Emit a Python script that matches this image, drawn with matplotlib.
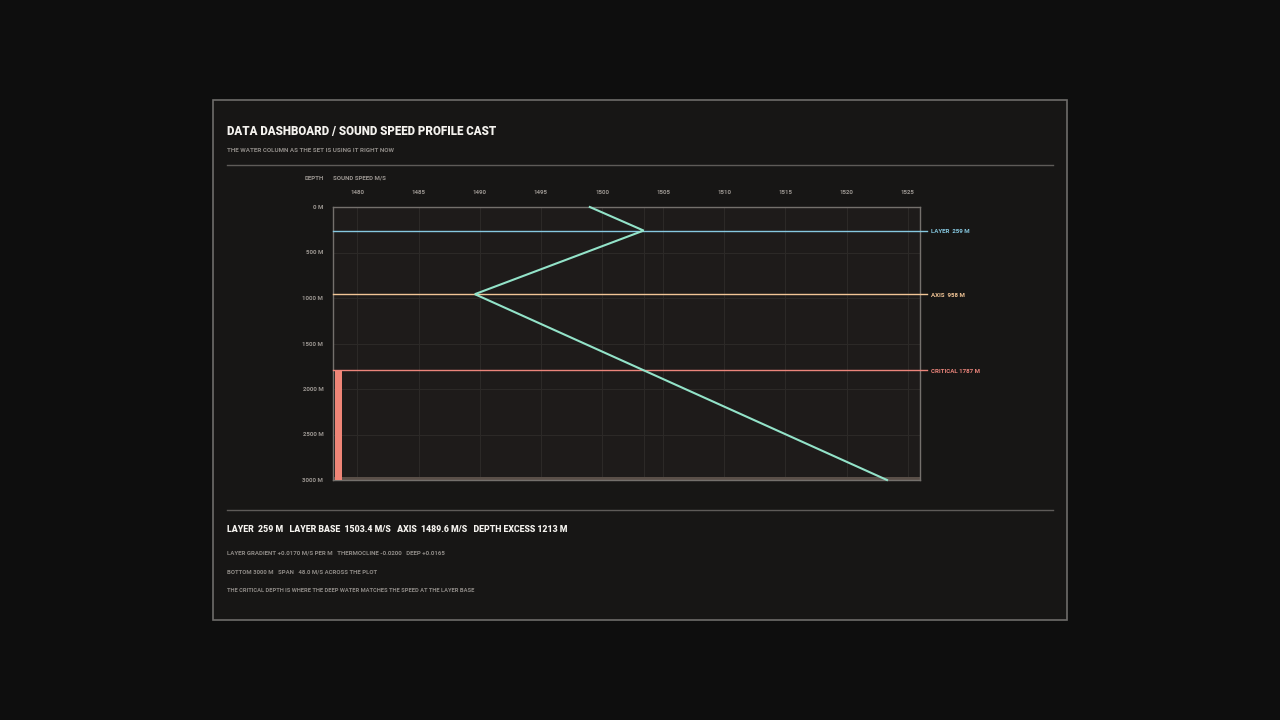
import matplotlib
matplotlib.use("Agg")
import matplotlib.pyplot as plt
from matplotlib.patches import Rectangle
from matplotlib.lines import Line2D

# ---- data ----
depths = [0, 259, 958, 3000]
speeds = [1499.0, 1503.4, 1489.6, 1523.3]
layer_depth = 259
axis_depth = 958
critical_depth = 1787
bottom_depth = 3000
speed_min, speed_max = 1478.0, 1526.0
x_ticks = [1480, 1485, 1490, 1495, 1500, 1505, 1510, 1515, 1520, 1525]
y_ticks = [0, 500, 1000, 1500, 2000, 2500, 3000]
marker_labels = ["LAYER  259 M", "AXIS  958 M", "CRITICAL 1787 M"]
marker_depths = [layer_depth, axis_depth, critical_depth]
marker_colors = ["#86c8e0", "#f2c596", "#ec857b"]

title = "DATA DASHBOARD / SOUND SPEED PROFILE CAST"
subtitle = "THE WATER COLUMN AS THE SET IS USING IT RIGHT NOW"
stats = "LAYER  259 M   LAYER BASE  1503.4 M/S   AXIS  1489.6 M/S   DEPTH EXCESS 1213 M"
notes = ["LAYER GRADIENT +0.0170 M/S PER M   THERMOCLINE -0.0200   DEEP +0.0165",
         "BOTTOM 3000 M   SPAN   48.0 M/S ACROSS THE PLOT",
         "THE CRITICAL DEPTH IS WHERE THE DEEP WATER MATCHES THE SPEED AT THE LAYER BASE"]

FONT = ["Roboto", "DejaVu Sans"]
plt.rcParams['font.family'] = FONT

W, H = 1280, 720
fig = plt.figure(figsize=(12.8, 7.2), dpi=100, facecolor="#0e0e0e")
renderer = fig.canvas.get_renderer()

def fx(px):
    return px / W

def fy(py):
    return 1 - py / H

def fit_text(s, x0, yc, width_px, size, **kw):
    t = fig.text(fx(x0), fy(yc), s, fontsize=size, va="center", ha="left", **kw)
    w = t.get_window_extent(renderer).width
    if w > 0:
        t.set_fontsize(size * width_px / w)
    return t

# panel
fig.patches.append(Rectangle((fx(213), fy(620)), fx(1067) - fx(213), fy(100) - fy(620),
                             transform=fig.transFigure, facecolor="#171615",
                             edgecolor="#6e6c6a", linewidth=1.2, zorder=-5))
# separators
fig.lines.append(Line2D([fx(227), fx(1053)], [fy(165), fy(165)], transform=fig.transFigure,
                        color="#5e5b58", linewidth=1.0, zorder=-4))
fig.lines.append(Line2D([fx(227), fx(1053)], [fy(510), fy(510)], transform=fig.transFigure,
                        color="#5e5b58", linewidth=1.0, zorder=-4))

fit_text(title, 227, 131, 267, 9.0, color="#f4f2ee", fontweight="black")
fit_text(subtitle, 227, 151, 167, 4.6, color="#8e8a86", fontweight="bold")
fit_text(stats, 227, 530, 343, 7.2, color="#f4f2ee", fontweight="black")
note_widths = [219, 150, 247]
for i, n in enumerate(notes):
    fit_text(n, 227, 553 + 19 * i, note_widths[i], 4.3, color="#8e8a86", fontweight="bold")

fig.text(fx(324), fy(178), "DEPTH", color="#9a9590", fontsize=4.4, fontweight="bold",
         va="center", ha="right")
fig.text(fx(333), fy(178), "SOUND SPEED M/S", color="#9a9590", fontsize=4.4, fontweight="bold",
         va="center", ha="left")

ax = fig.add_axes([fx(333), fy(480), fx(920) - fx(333), fy(207) - fy(480)])
ax.set_facecolor("#1e1b1a")
ax.set_xlim(speed_min, speed_max)
ax.set_ylim(bottom_depth, 0)
for s in ax.spines.values():
    s.set_color("#74706c")
    s.set_linewidth(1.0)

ax.xaxis.tick_top()
ax.set_xticks(x_ticks)
ax.set_xticklabels([str(t) for t in x_ticks])
ax.set_yticks(y_ticks)
ax.set_yticklabels([f"{t} M" for t in y_ticks])
ax.tick_params(axis="both", length=0, colors="#9a9590", labelsize=4.4)
ax.tick_params(axis="x", pad=9)
ax.tick_params(axis="y", pad=7)
for lab in ax.get_xticklabels() + ax.get_yticklabels():
    lab.set_fontweight("bold")
ax.grid(True, color="#2c2927", linewidth=0.8)
ax.set_axisbelow(True)

# layer-base speed reference
ax.axvline(speeds[1], color="#2c2927", linewidth=0.8, zorder=1)

# seabed band
ax.axhspan(bottom_depth - 35, bottom_depth, color="#5a4f48", zorder=2, linewidth=0)

# depth excess bar
ax.bar([speed_min + 0.45], [bottom_depth - critical_depth], bottom=[critical_depth],
       width=0.6, color="#ef8577", zorder=3, linewidth=0)

# marker lines
for d, c, lab in zip(marker_depths, marker_colors, marker_labels):
    ax.axhline(d, xmin=0, xmax=1.012, color=c, linewidth=1.0, clip_on=False, zorder=4)
    ax.annotate(lab, xy=(1.0, d), xycoords=("axes fraction", "data"),
                xytext=(8, -1.0), textcoords="offset points",
                color=c, fontsize=4.4, fontweight="bold", va="center", ha="left",
                annotation_clip=False)

# profile
ax.plot(speeds, depths, color="#93e3c9", linewidth=1.5, zorder=5, clip_on=False,
        solid_joinstyle="miter")

fig.savefig("out.png", dpi=100, facecolor=fig.get_facecolor())
